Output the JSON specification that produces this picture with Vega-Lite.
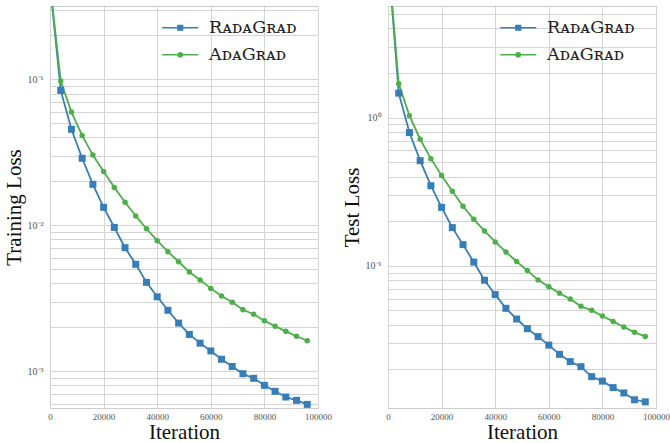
{
 "$schema": "https://vega.github.io/schema/vega-lite/v6.json",
 "padding": {"left": 2, "top": 4, "right": 0, "bottom": 0},
 "background": "white",
 "bounds": "flush",
 "spacing": 70,
 "config": {
  "view": {"stroke": "#cccccc", "strokeWidth": 1},
  "font": "Liberation Serif",
  "axis": {"domain": false, "ticks": false, "gridColor": "#d4d4d4", "gridWidth": 1, "labelFont": "Liberation Serif", "labelFontSize": 9, "labelColor": "#555555", "titleFont": "Liberation Serif", "titleFontSize": 21, "titleFontWeight": "normal", "titleColor": "#111111", "labelOverlap": false},
  "legend": {"orient": "none", "legendX": 121.5, "legendY": 13, "title": null, "padding": 0, "symbolSize": 100, "symbolStrokeWidth": 1.7, "labelOffset": 20, "labelFont": "DejaVu Serif", "labelFontSize": 17.5, "labelColor": "#222222", "rowPadding": 8, "symbolOpacity": 1}
 },
 "data": {"values": [
  {"p":"tr","s":"RadaGrad","x":0,"y":0.45},
  {"p":"tr","s":"RadaGrad","x":4000,"y":0.084},
  {"p":"tr","s":"RadaGrad","x":8000,"y":0.0455},
  {"p":"tr","s":"RadaGrad","x":12000,"y":0.0288},
  {"p":"tr","s":"RadaGrad","x":16000,"y":0.0191},
  {"p":"tr","s":"RadaGrad","x":20000,"y":0.0133},
  {"p":"tr","s":"RadaGrad","x":24000,"y":0.00968},
  {"p":"tr","s":"RadaGrad","x":28000,"y":0.00703},
  {"p":"tr","s":"RadaGrad","x":32000,"y":0.00541},
  {"p":"tr","s":"RadaGrad","x":36000,"y":0.00407},
  {"p":"tr","s":"RadaGrad","x":40000,"y":0.00324},
  {"p":"tr","s":"RadaGrad","x":44000,"y":0.00262},
  {"p":"tr","s":"RadaGrad","x":48000,"y":0.00214},
  {"p":"tr","s":"RadaGrad","x":52000,"y":0.00179},
  {"p":"tr","s":"RadaGrad","x":56000,"y":0.00156},
  {"p":"tr","s":"RadaGrad","x":60000,"y":0.00138},
  {"p":"tr","s":"RadaGrad","x":64000,"y":0.00121},
  {"p":"tr","s":"RadaGrad","x":68000,"y":0.00108},
  {"p":"tr","s":"RadaGrad","x":72000,"y":0.000963},
  {"p":"tr","s":"RadaGrad","x":76000,"y":0.000896},
  {"p":"tr","s":"RadaGrad","x":80000,"y":0.000802},
  {"p":"tr","s":"RadaGrad","x":84000,"y":0.00073},
  {"p":"tr","s":"RadaGrad","x":88000,"y":0.000667},
  {"p":"tr","s":"RadaGrad","x":92000,"y":0.000633},
  {"p":"tr","s":"RadaGrad","x":96000,"y":0.000594},
  {"p":"tr","s":"AdaGrad","x":0,"y":0.45},
  {"p":"tr","s":"AdaGrad","x":4000,"y":0.0974},
  {"p":"tr","s":"AdaGrad","x":8000,"y":0.0597},
  {"p":"tr","s":"AdaGrad","x":12000,"y":0.0413},
  {"p":"tr","s":"AdaGrad","x":16000,"y":0.0303},
  {"p":"tr","s":"AdaGrad","x":20000,"y":0.0234},
  {"p":"tr","s":"AdaGrad","x":24000,"y":0.0182},
  {"p":"tr","s":"AdaGrad","x":28000,"y":0.0144},
  {"p":"tr","s":"AdaGrad","x":32000,"y":0.0116},
  {"p":"tr","s":"AdaGrad","x":36000,"y":0.00948},
  {"p":"tr","s":"AdaGrad","x":40000,"y":0.00785},
  {"p":"tr","s":"AdaGrad","x":44000,"y":0.0066},
  {"p":"tr","s":"AdaGrad","x":48000,"y":0.00563},
  {"p":"tr","s":"AdaGrad","x":52000,"y":0.00479},
  {"p":"tr","s":"AdaGrad","x":56000,"y":0.00422},
  {"p":"tr","s":"AdaGrad","x":60000,"y":0.0037},
  {"p":"tr","s":"AdaGrad","x":64000,"y":0.00328},
  {"p":"tr","s":"AdaGrad","x":68000,"y":0.00297},
  {"p":"tr","s":"AdaGrad","x":72000,"y":0.00264},
  {"p":"tr","s":"AdaGrad","x":76000,"y":0.00246},
  {"p":"tr","s":"AdaGrad","x":80000,"y":0.00222},
  {"p":"tr","s":"AdaGrad","x":84000,"y":0.00204},
  {"p":"tr","s":"AdaGrad","x":88000,"y":0.00188},
  {"p":"tr","s":"AdaGrad","x":92000,"y":0.00174},
  {"p":"tr","s":"AdaGrad","x":96000,"y":0.00162},
  {"p":"te","s":"RadaGrad","x":0,"y":12.5},
  {"p":"te","s":"RadaGrad","x":4000,"y":1.46},
  {"p":"te","s":"RadaGrad","x":8000,"y":0.792},
  {"p":"te","s":"RadaGrad","x":12000,"y":0.512},
  {"p":"te","s":"RadaGrad","x":16000,"y":0.347},
  {"p":"te","s":"RadaGrad","x":20000,"y":0.248},
  {"p":"te","s":"RadaGrad","x":24000,"y":0.181},
  {"p":"te","s":"RadaGrad","x":28000,"y":0.139},
  {"p":"te","s":"RadaGrad","x":32000,"y":0.106},
  {"p":"te","s":"RadaGrad","x":36000,"y":0.08},
  {"p":"te","s":"RadaGrad","x":40000,"y":0.064},
  {"p":"te","s":"RadaGrad","x":44000,"y":0.0517},
  {"p":"te","s":"RadaGrad","x":48000,"y":0.0438},
  {"p":"te","s":"RadaGrad","x":52000,"y":0.0377},
  {"p":"te","s":"RadaGrad","x":56000,"y":0.0333},
  {"p":"te","s":"RadaGrad","x":60000,"y":0.0292},
  {"p":"te","s":"RadaGrad","x":64000,"y":0.0253},
  {"p":"te","s":"RadaGrad","x":68000,"y":0.0226},
  {"p":"te","s":"RadaGrad","x":72000,"y":0.0209},
  {"p":"te","s":"RadaGrad","x":76000,"y":0.0179},
  {"p":"te","s":"RadaGrad","x":80000,"y":0.0167},
  {"p":"te","s":"RadaGrad","x":84000,"y":0.0151},
  {"p":"te","s":"RadaGrad","x":88000,"y":0.0139},
  {"p":"te","s":"RadaGrad","x":92000,"y":0.0125},
  {"p":"te","s":"RadaGrad","x":96000,"y":0.0121},
  {"p":"te","s":"AdaGrad","x":0,"y":12.5},
  {"p":"te","s":"AdaGrad","x":4000,"y":1.69},
  {"p":"te","s":"AdaGrad","x":8000,"y":1.03},
  {"p":"te","s":"AdaGrad","x":12000,"y":0.714},
  {"p":"te","s":"AdaGrad","x":16000,"y":0.528},
  {"p":"te","s":"AdaGrad","x":20000,"y":0.406},
  {"p":"te","s":"AdaGrad","x":24000,"y":0.318},
  {"p":"te","s":"AdaGrad","x":28000,"y":0.252},
  {"p":"te","s":"AdaGrad","x":32000,"y":0.206},
  {"p":"te","s":"AdaGrad","x":36000,"y":0.172},
  {"p":"te","s":"AdaGrad","x":40000,"y":0.145},
  {"p":"te","s":"AdaGrad","x":44000,"y":0.124},
  {"p":"te","s":"AdaGrad","x":48000,"y":0.107},
  {"p":"te","s":"AdaGrad","x":52000,"y":0.0929},
  {"p":"te","s":"AdaGrad","x":56000,"y":0.0804},
  {"p":"te","s":"AdaGrad","x":60000,"y":0.0724},
  {"p":"te","s":"AdaGrad","x":64000,"y":0.0653},
  {"p":"te","s":"AdaGrad","x":68000,"y":0.0598},
  {"p":"te","s":"AdaGrad","x":72000,"y":0.0533},
  {"p":"te","s":"AdaGrad","x":76000,"y":0.0501},
  {"p":"te","s":"AdaGrad","x":80000,"y":0.0459},
  {"p":"te","s":"AdaGrad","x":84000,"y":0.0422},
  {"p":"te","s":"AdaGrad","x":88000,"y":0.0387},
  {"p":"te","s":"AdaGrad","x":92000,"y":0.0356},
  {"p":"te","s":"AdaGrad","x":96000,"y":0.0334}
 ]},
 "hconcat": [
  {
   "width": 268, "height": 402,
   "transform": [{"filter": "datum.p === 'tr'"}],
   "encoding": {
    "x": {"field": "x", "type": "quantitative", "scale": {"domain": [0, 100000], "nice": false, "zero": false},
          "axis": {"values": [0, 20000, 40000, 60000, 80000, 100000], "format": "d", "title": "Iteration", "labelPadding": 4, "titlePadding": 0, "labelFlush": false, "grid": true}},
    "y": {"field": "y", "type": "quantitative", "scale": {"type": "log", "domain": [0.000561, 0.318], "nice": false},
          "axis": {"values": [0.0006, 0.0007, 0.0008, 0.0009, 0.001, 0.002, 0.003, 0.004, 0.005, 0.006, 0.007, 0.008, 0.009, 0.01, 0.02, 0.03, 0.04, 0.05, 0.06, 0.07, 0.08, 0.09, 0.1, 0.2, 0.3],
                   "labelExpr": "datum.value === 0.1 ? '10⁻¹' : datum.value === 0.01 ? '10⁻²' : datum.value === 0.001 ? '10⁻³' : ''",
                   "labelFontSize": 10,
                   "title": "Training Loss", "labelPadding": 7, "minExtent": 22, "maxExtent": 22, "titlePadding": 4, "grid": true}},
    "color": {"field": "s", "type": "nominal", "scale": {"domain": ["RadaGrad", "AdaGrad"], "range": ["#377eb8", "#4daf4a"]},
              "legend": {"labelExpr": "datum.value === 'RadaGrad' ? 'RᴀᴅᴀGʀᴀᴅ' : 'AᴅᴀGʀᴀᴅ'"}}
   },
   "layer": [
    {"mark": {"type": "line", "strokeWidth": 1.8, "clip": true}},
    {"transform": [{"filter": "datum.x === 0"}],
     "mark": {"type": "point", "filled": false, "opacity": 1, "strokeWidth": 1.7, "clip": true},
     "encoding": {
      "shape": {"field": "s", "type": "nominal", "scale": {"domain": ["RadaGrad", "AdaGrad"], "range": ["M-3.6,0H3.6M-0.45,-0.45H0.45V0.45H-0.45ZM-0.2,-0.2H0.2V0.2H-0.2ZM-0.02,0H0.02", "M-3.6,0H3.6M0.4,0A0.4,0.4,0,1,1,-0.4,0A0.4,0.4,0,1,1,0.4,0ZM0.15,0A0.15,0.15,0,1,1,-0.15,0A0.15,0.15,0,1,1,0.15,0Z"]},
                "legend": {"labelExpr": "datum.value === 'RadaGrad' ? 'RᴀᴅᴀGʀᴀᴅ' : 'AᴅᴀGʀᴀᴅ'"}}}},
    {"transform": [{"filter": "datum.x > 0 && datum.s === 'RadaGrad'"}],
     "mark": {"type": "point", "shape": "square", "size": 49, "filled": true, "opacity": 1, "clip": true}},
    {"transform": [{"filter": "datum.x > 0 && datum.s === 'AdaGrad'"}],
     "mark": {"type": "point", "shape": "circle", "size": 30, "filled": true, "opacity": 1, "clip": true}}
   ]
  },
  {
   "width": 268, "height": 402,
   "transform": [{"filter": "datum.p === 'te'"}],
   "encoding": {
    "x": {"field": "x", "type": "quantitative", "scale": {"domain": [0, 100000], "nice": false, "zero": false},
          "axis": {"values": [0, 20000, 40000, 60000, 80000, 100000], "format": "d", "title": "Iteration", "labelPadding": 4, "titlePadding": 0, "labelFlush": false, "grid": true}},
    "y": {"field": "y", "type": "quantitative", "scale": {"type": "log", "domain": [0.011, 5.65], "nice": false},
          "axis": {"values": [0.02, 0.03, 0.04, 0.05, 0.06, 0.07, 0.08, 0.09, 0.1, 0.2, 0.3, 0.4, 0.5, 0.6, 0.7, 0.8, 0.9, 1, 2, 3, 4, 5],
                   "labelExpr": "datum.value === 1 ? '10⁰' : datum.value === 0.1 ? '10⁻¹' : ''",
                   "labelFontSize": 10,
                   "title": "Test Loss", "labelPadding": 7, "minExtent": 22, "maxExtent": 22, "titlePadding": 4, "grid": true}},
    "color": {"field": "s", "type": "nominal", "scale": {"domain": ["RadaGrad", "AdaGrad"], "range": ["#377eb8", "#4daf4a"]},
              "legend": {"labelExpr": "datum.value === 'RadaGrad' ? 'RᴀᴅᴀGʀᴀᴅ' : 'AᴅᴀGʀᴀᴅ'"}}
   },
   "layer": [
    {"mark": {"type": "line", "strokeWidth": 1.8, "clip": true}},
    {"transform": [{"filter": "datum.x === 0"}],
     "mark": {"type": "point", "filled": false, "opacity": 1, "strokeWidth": 1.7, "clip": true},
     "encoding": {
      "shape": {"field": "s", "type": "nominal", "scale": {"domain": ["RadaGrad", "AdaGrad"], "range": ["M-3.6,0H3.6M-0.45,-0.45H0.45V0.45H-0.45ZM-0.2,-0.2H0.2V0.2H-0.2ZM-0.02,0H0.02", "M-3.6,0H3.6M0.4,0A0.4,0.4,0,1,1,-0.4,0A0.4,0.4,0,1,1,0.4,0ZM0.15,0A0.15,0.15,0,1,1,-0.15,0A0.15,0.15,0,1,1,0.15,0Z"]},
                "legend": {"labelExpr": "datum.value === 'RadaGrad' ? 'RᴀᴅᴀGʀᴀᴅ' : 'AᴅᴀGʀᴀᴅ'"}}}},
    {"transform": [{"filter": "datum.x > 0 && datum.s === 'RadaGrad'"}],
     "mark": {"type": "point", "shape": "square", "size": 49, "filled": true, "opacity": 1, "clip": true}},
    {"transform": [{"filter": "datum.x > 0 && datum.s === 'AdaGrad'"}],
     "mark": {"type": "point", "shape": "circle", "size": 30, "filled": true, "opacity": 1, "clip": true}}
   ]
  }
 ],
 "resolve": {"scale": {"x": "independent", "y": "independent", "color": "independent", "shape": "independent"}, "legend": {"color": "independent", "shape": "independent"}}
}
